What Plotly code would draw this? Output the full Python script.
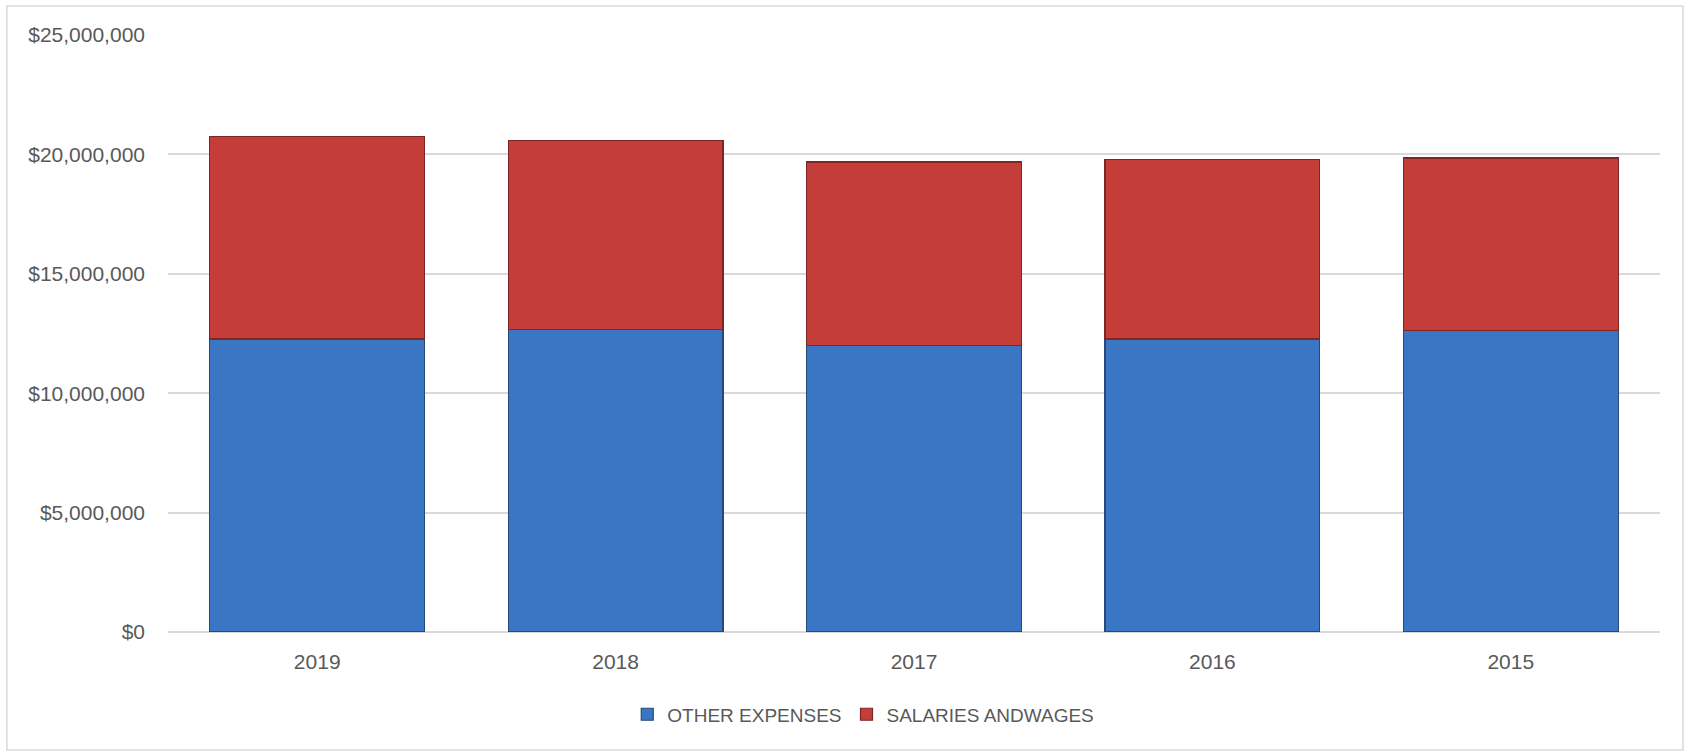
import plotly.graph_objects as go

years = ["2019", "2018", "2017", "2016", "2015"]
other_expenses = [12270000, 12670000, 12000000, 12270000, 12630000]
salaries_wages = [8490000, 7920000, 7680000, 7520000, 7220000]
y_ticks = [0, 5000000, 10000000, 15000000, 20000000, 25000000]
y_tick_labels = ["$0", "$5,000,000", "$10,000,000", "$15,000,000", "$20,000,000", "$25,000,000"]

FONT = "Liberation Sans"
TXT = "#595959"

fig = go.Figure()
fig.add_trace(go.Bar(
    x=years, y=other_expenses, name="OTHER EXPENSES",
    marker=dict(color="#3B76C4", line=dict(color="#27497A", width=1.2)),
))
fig.add_trace(go.Bar(
    x=years, y=salaries_wages, name="SALARIES ANDWAGES",
    marker=dict(color="#C43D39", line=dict(color="#7E2624", width=1.2)),
))

fig.update_layout(
    barmode="stack",
    bargap=0.28,
    width=1690, height=755,
    margin=dict(l=168, r=30, t=35, b=123),
    paper_bgcolor="white", plot_bgcolor="white",
    font=dict(family=FONT, color=TXT, size=18),
    showlegend=True,
    legend=dict(
        orientation="h", x=0.466, xanchor="center", y=-0.138, yanchor="middle",
        font=dict(family=FONT, size=19, color=TXT),
        itemwidth=30, traceorder="normal",
    ),
    xaxis=dict(
        showgrid=False, showline=False, ticks="",
        tickfont=dict(family=FONT, size=21, color=TXT),
        ticklabelstandoff=15,
    ),
    yaxis=dict(
        range=[0, 25000000],
        tickvals=y_ticks, ticktext=y_tick_labels,
        showgrid=True, gridcolor="#D9D9D9", gridwidth=1.5,
        zeroline=True, zerolinecolor="#D9D9D9", zerolinewidth=1.5,
        showline=False, ticks="",
        tickfont=dict(family=FONT, size=21, color=TXT),
        ticklabelstandoff=22,
    ),
    shapes=[dict(
        type="rect", xref="paper", yref="paper",
        x0=-0.108, x1=1.0154, y0=-0.1977, y1=1.0486,
        line=dict(color="#D9D9D9", width=1.5), fillcolor="rgba(0,0,0,0)",
        layer="below",
    )],
)

fig.write_html("out.html")
